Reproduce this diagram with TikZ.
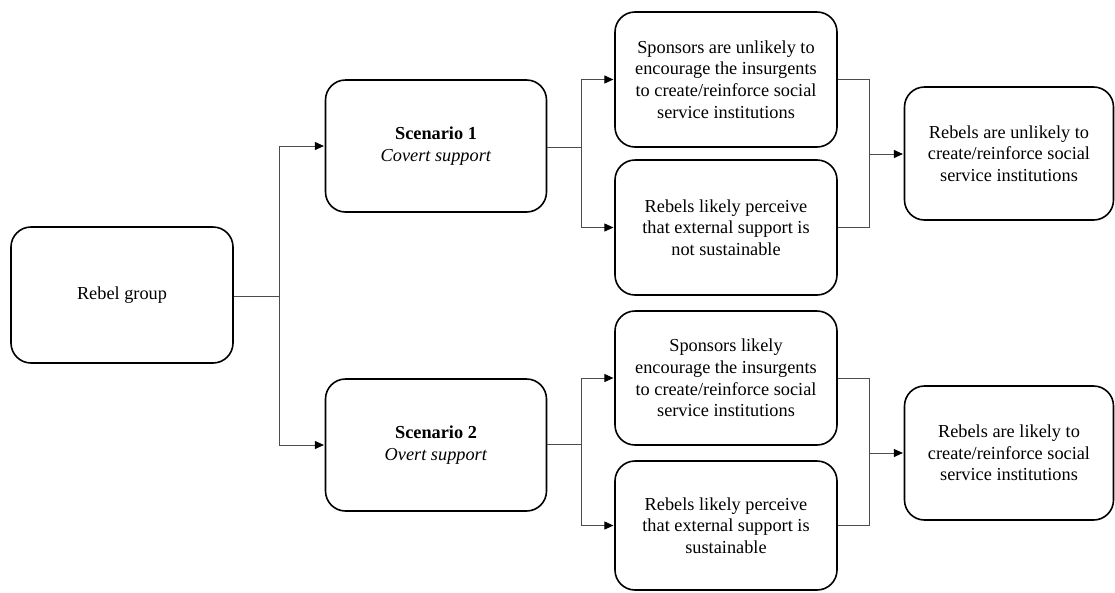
\documentclass[tikz,border=0pt]{standalone}
\usepackage{fontspec}
\setmainfont{Liberation Serif}
\usetikzlibrary{arrows.meta}

\begin{document}
\begin{tikzpicture}[
  x=1pt, y=-1pt,
  box/.style={draw=black, line width=1.6pt, rounded corners=20pt,
    align=center, inner sep=4pt,
    font=\fontsize{18.3}{21.7}\selectfont},
  link/.style={draw=black!70, line width=0.9pt},
  arr/.style={link, -{Triangle[length=9pt,width=8pt,color=black]}, shorten >=0.8pt}
]
\useasboundingbox (0,0) rectangle (1115,592);

% starting point
\node[box, minimum width=222pt, minimum height=136pt] (rebel) at (122,295) {Rebel group};

% the two scenarios
\node[box, minimum width=221pt, minimum height=132pt] (s1) at (436,146)
  {\textbf{Scenario 1}\\\textit{Covert support}};
\node[box, minimum width=221pt, minimum height=132pt] (s2) at (436,445)
  {\textbf{Scenario 2}\\\textit{Overt support}};

% mechanisms, covert case
\node[box, minimum width=222pt, minimum height=135pt] (a1) at (726,79.5)
  {Sponsors are unlikely to\\encourage the insurgents\\to create/reinforce social\\service institutions};
\node[box, minimum width=222pt, minimum height=135pt] (a2) at (726,227.5)
  {Rebels likely perceive\\that external support is\\not sustainable};

% mechanisms, overt case
\node[box, minimum width=222pt, minimum height=134pt] (b1) at (726,378)
  {Sponsors likely\\encourage the insurgents\\to create/reinforce social\\service institutions};
\node[box, minimum width=222pt, minimum height=129pt] (b2) at (726,525.5)
  {Rebels likely perceive\\that external support is\\sustainable};

% outcomes
\node[box, minimum width=209pt, minimum height=133pt] (r1) at (1009,153.5)
  {Rebels are unlikely to\\create/reinforce social\\service institutions};
\node[box, minimum width=209pt, minimum height=134pt] (r2) at (1009,453)
  {Rebels are likely to\\create/reinforce social\\service institutions};

% junction points
\coordinate (j0) at (279,296);
\coordinate (j1) at (581,147);
\coordinate (j2) at (581,444);
\coordinate (k1) at (869,154);
\coordinate (k2) at (869,453);

% rebel group to scenarios
\draw[link] (rebel.east |- j0) -- (j0);
\draw[arr] (j0) |- (s1.west);
\draw[arr] (j0) |- (s2.west);

% scenarios to mechanisms
\draw[link] (s1.east |- j1) -- (j1);
\draw[arr] (j1) |- (a1.west);
\draw[arr] (j1) |- (a2.west);
\draw[link] (s2.east |- j2) -- (j2);
\draw[arr] (j2) |- (b1.west);
\draw[arr] (j2) |- (b2.west);

% mechanisms to outcomes
\draw[link] (a1.east) -| (k1);
\draw[link] (a2.east) -| (k1);
\draw[arr] (k1) -- (r1.west |- k1);
\draw[link] (b1.east) -| (k2);
\draw[link] (b2.east) -| (k2);
\draw[arr] (k2) -- (r2.west |- k2);
\end{tikzpicture}
\end{document}
